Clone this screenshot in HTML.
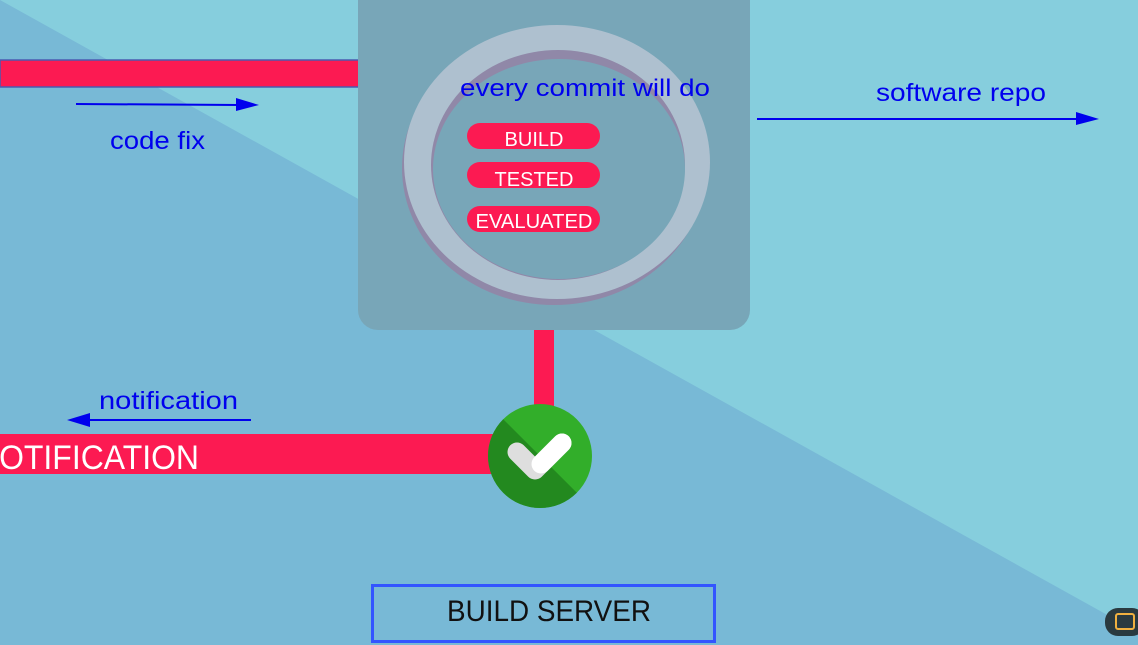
<!DOCTYPE html>
<html><head><style>
body{margin:0;width:1138px;height:645px;overflow:hidden;font-family:"Liberation Sans",sans-serif;}
</style></head><body>
<svg width="1138" height="645" xmlns="http://www.w3.org/2000/svg" style="display:block">
<rect width="1138" height="645" fill="#78b9d6"/>
<polygon points="0,0 1138,0 1138,632" fill="#86cedd"/>
<rect x="0" y="60" width="360" height="27" fill="#fc1a52" stroke="#4a5bb0" stroke-width="1.5"/>
<line x1="76" y1="104" x2="240" y2="105" stroke="#0000ee" stroke-width="2"/>
<polygon points="236,98 259,105 236,111" fill="#0000ee"/>
<text x="110" y="149" font-size="25" fill="#0000ee" textLength="95" lengthAdjust="spacingAndGlyphs">code fix</text>
<rect x="358" y="-20" width="392" height="350" rx="20" fill="#78a6b8"/>
<ellipse cx="554" cy="168" rx="152" ry="137" fill="#9088a8"/>
<ellipse cx="557" cy="162" rx="153" ry="137" fill="#aec0cf"/>
<ellipse cx="558" cy="165" rx="127" ry="115" fill="#9088a8"/>
<ellipse cx="559" cy="169" rx="126" ry="110" fill="#78a6b8"/>
<text x="460" y="96" font-size="24" fill="#0000ee" textLength="250" lengthAdjust="spacingAndGlyphs">every commit will do</text>
<rect x="467" y="123" width="133" height="26" rx="13" fill="#fc1a52"/>
<rect x="467" y="162" width="133" height="26" rx="13" fill="#fc1a52"/>
<rect x="467" y="206" width="133" height="26" rx="13" fill="#fc1a52"/>
<g fill="#fff" font-size="20" text-anchor="middle">
<text x="534" y="146">BUILD</text><text x="534" y="186">TESTED</text><text x="534" y="228" textLength="117" lengthAdjust="spacingAndGlyphs">EVALUATED</text></g>
<line x1="757" y1="119" x2="1080" y2="119" stroke="#0000ee" stroke-width="2"/>
<polygon points="1076,112 1099,119 1076,125" fill="#0000ee"/>
<text x="876" y="101" font-size="25" fill="#0000ee" textLength="170" lengthAdjust="spacingAndGlyphs">software repo</text>
<rect x="534" y="330" width="20" height="85" fill="#fc1a52"/>
<rect x="0" y="434" width="500" height="40" fill="#fc1a52"/>
<text x="-24" y="469" font-size="34" fill="#fff" textLength="223" lengthAdjust="spacingAndGlyphs">NOTIFICATION</text>
<line x1="88" y1="420" x2="251" y2="420" stroke="#0000ee" stroke-width="2"/>
<polygon points="90,413 67,420 90,427" fill="#0000ee"/>
<text x="99" y="409" font-size="25" fill="#0000ee" textLength="139" lengthAdjust="spacingAndGlyphs">notification</text>
<circle cx="540" cy="456" r="52" fill="#32ae2a"/>
<path d="M503.2,419.2 A52,52 0 0 0 576.8,492.8 Z" fill="#23891f"/>
<path d="M517,452 L535,470 L562,443" stroke="#dedede" stroke-width="19" fill="none" stroke-linecap="round" stroke-linejoin="round"/>
<path d="M541,464 L562,443" stroke="#fff" stroke-width="19" fill="none" stroke-linecap="round"/>
<rect x="372.5" y="585.5" width="342" height="56" fill="none" stroke="#3355ff" stroke-width="3"/>
<text x="447" y="621" font-size="30" fill="#111" textLength="204" lengthAdjust="spacingAndGlyphs">BUILD SERVER</text>
<rect x="1105" y="608" width="40" height="28" rx="13" fill="#2a3a40"/>
<rect x="1116" y="614" width="18" height="15" rx="2" fill="none" stroke="#f0b040" stroke-width="2"/>
</svg>
</body></html>
